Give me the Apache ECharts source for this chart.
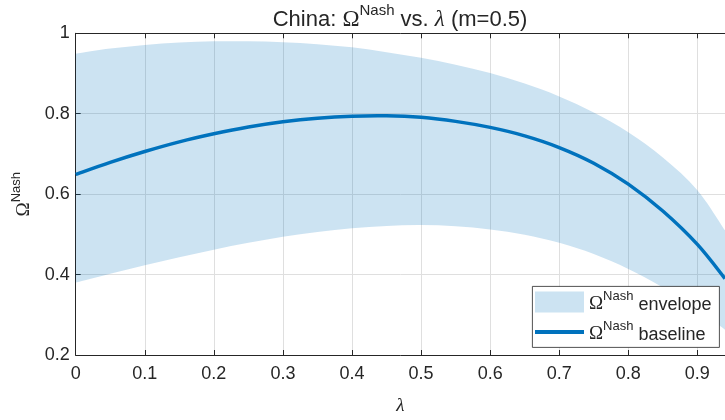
<!DOCTYPE html>
<html><head><meta charset="utf-8">
<script src="https://cdn.jsdelivr.net/npm/echarts@6/dist/echarts.min.js"></script>
<style>html,body{margin:0;padding:0;background:#fff}#c{width:725px;height:420px}</style>
</head><body><div id="c"></div>
<script>
const lambdaVals = [0,0.05,0.1,0.15,0.2,0.25,0.3,0.35,0.4,0.45,0.5,0.55,0.6,0.65,0.7,0.75,0.8,0.85,0.9,0.94];
const baseline  = [0.649,0.679,0.706,0.730,0.750,0.767,0.780,0.789,0.794,0.795,0.791,0.781,0.766,0.745,0.716,0.677,0.625,0.558,0.475,0.390];
const upperEnv  = [0.949,0.962,0.971,0.977,0.980,0.980,0.978,0.973,0.965,0.953,0.939,0.922,0.901,0.875,0.843,0.803,0.754,0.691,0.610,0.510];
const lowerEnv  = [0.380,0.402,0.423,0.443,0.462,0.479,0.494,0.506,0.515,0.521,0.523,0.520,0.512,0.499,0.479,0.451,0.414,0.368,0.313,0.263];
const xTickLabels = ['0','0.1','0.2','0.3','0.4','0.5','0.6','0.7','0.8','0.9'];
const yTickLabels = ['0.2','0.4','0.6','0.8','1'];

const TXT = '#262626';
const SANS = '"Liberation Sans", Arial, Helvetica, sans-serif';
const SERIF = '"Liberation Serif", "DejaVu Serif", serif';
function richSet(base, sup) {
  return {
    t: {fontFamily: SANS, fontSize: base, fontWeight: 'normal', color: TXT, lineHeight: base + 6, verticalAlign: 'bottom'},
    o: {fontFamily: SERIF, fontSize: base + 1, fontWeight: 'normal', color: TXT, lineHeight: base + 6, verticalAlign: 'bottom'},
    l: {fontFamily: SERIF, fontSize: base + 1, fontWeight: 'normal', fontStyle: 'italic', color: TXT, lineHeight: base + 6, verticalAlign: 'bottom'},
    s: {fontFamily: SANS, fontSize: sup, fontWeight: 'normal', color: TXT, lineHeight: sup + 1, verticalAlign: 'top'}
  };
}
const richBase = richSet(18, 13);
const richTitle = richSet(22, 15);

const envData  = lambdaVals.map((x, i) => [x, upperEnv[i], lowerEnv[i]]);
const baseData = lambdaVals.map((x, i) => [x, baseline[i]]);

const fmtX = v => { const k = Math.round(v * 10); return Math.abs(v * 10 - k) < 1e-6 && k < xTickLabels.length ? xTickLabels[k] : ''; };
const fmtY = v => { const k = Math.round((v - 0.2) / 0.2); return Math.abs((v - 0.2) / 0.2 - k) < 1e-6 ? (yTickLabels[k] || '') : ''; };

// Catmull-Rom -> cubic bezier path through pixel points
function smoothSegs(pts) {
  let d = '';
  for (let i = 0; i < pts.length - 1; i++) {
    const p0 = pts[i - 1] || pts[i], p1 = pts[i], p2 = pts[i + 1], p3 = pts[i + 2] || pts[i + 1];
    const c1 = [p1[0] + (p2[0] - p0[0]) / 6, p1[1] + (p2[1] - p0[1]) / 6];
    const c2 = [p2[0] - (p3[0] - p1[0]) / 6, p2[1] - (p3[1] - p1[1]) / 6];
    d += ' C' + c1[0] + ',' + c1[1] + ' ' + c2[0] + ',' + c2[1] + ' ' + p2[0] + ',' + p2[1];
  }
  return d;
}

function renderEnvelope(params, api) {
  if (params.dataIndex !== 0) return null;
  const up = lambdaVals.map((x, i) => api.coord([x, upperEnv[i]]));
  const lo = lambdaVals.map((x, i) => api.coord([x, lowerEnv[i]])).reverse();
  const d = 'M' + up[0][0] + ',' + up[0][1] + smoothSegs(up) +
            ' L' + lo[0][0] + ',' + lo[0][1] + smoothSegs(lo) + ' Z';
  return {type: 'path', shape: {pathData: d}, style: {fill: 'rgba(0,114,189,0.2)', stroke: null}};
}

function renderBaseline(params, api) {
  if (params.dataIndex !== 0) return null;
  const pts = lambdaVals.map((x, i) => api.coord([x, baseline[i]]));
  const d = 'M' + pts[0][0] + ',' + pts[0][1] + smoothSegs(pts);
  return {type: 'path', shape: {pathData: d}, style: {fill: null, stroke: '#0072BD', lineWidth: 3.5, lineJoin: 'round'}};
}

const chart = echarts.init(document.getElementById('c'), null, {renderer: 'canvas'});
chart.setOption({
  animation: false,
  backgroundColor: '#fff',
  title: {
    text: '{t|China: }{o|Ω}{s|Nash}{t| vs. }{l|λ}{t| (m=0.5)}',
    left: 400, textAlign: 'center', top: 3, padding: 0,
    textStyle: {fontWeight: 'normal', rich: richTitle}
  },
  grid: {left: 75.7, right: 0, top: 33.3, bottom: 60, containLabel: false},
  xAxis: [{
    type: 'value', min: 0, max: 0.94, interval: 0.1,
    name: '{l|λ}', nameLocation: 'middle', nameGap: 36,
    nameTextStyle: {rich: richBase},
    axisLine: {lineStyle: {color: TXT, width: 1}},
    axisTick: {inside: true, length: 5, lineStyle: {color: TXT}},
    axisLabel: {formatter: fmtX, color: TXT, fontFamily: SANS, fontSize: 18, margin: 10, showMaxLabel: false},
    splitLine: {show: true, lineStyle: {color: '#dfdfdf', width: 1}}
  }, {
    type: 'value', min: 0, max: 0.94, interval: 0.1, position: 'top',
    axisLine: {lineStyle: {color: TXT, width: 1}},
    axisTick: {inside: true, length: 5, lineStyle: {color: TXT}},
    axisLabel: {show: false}, splitLine: {show: false}
  }],
  yAxis: {
    type: 'value', min: 0.2, max: 1, interval: 0.2,
    name: '{o|Ω}{s|Nash}', nameLocation: 'middle', nameRotate: 90, nameGap: 30,
    nameTextStyle: {rich: richBase},
    axisLine: {show: true, lineStyle: {color: TXT, width: 1}},
    axisTick: {show: true, inside: true, length: 5, lineStyle: {color: TXT}},
    axisLabel: {formatter: fmtY, color: TXT, fontFamily: SANS, fontSize: 18, margin: 6},
    splitLine: {show: true, lineStyle: {color: '#dfdfdf', width: 1}}
  },
  legend: [{
    left: 535, top: 290, orient: 'vertical', itemWidth: 49, itemHeight: 21, itemGap: 0, padding: 0,
    data: [{name: 'envelope', icon: 'rect', itemStyle: {color: '#cce3f2', borderWidth: 0}}],
    formatter: n => '{o|Ω}{s|Nash}{t| ' + n + '}',
    textStyle: {rich: richBase}, selectedMode: false, z: 5
  }, {
    left: 535, top: 320, orient: 'vertical', itemWidth: 49, itemHeight: 4, itemGap: 0, padding: 0,
    data: [{name: 'baseline', icon: 'rect', itemStyle: {color: '#0072BD', borderWidth: 0}}],
    formatter: n => '{o|Ω}{s|Nash}{t| ' + n + '}',
    textStyle: {rich: richBase}, selectedMode: false, z: 5
  }],
  graphic: [{
    type: 'rect', z: 4, left: 532, top: 286,
    shape: {width: 187, height: 61},
    style: {fill: '#fff', stroke: TXT, lineWidth: 0.8}
  }],
  series: [{
    name: 'envelope', type: 'custom', data: envData, renderItem: renderEnvelope,
    encode: {x: 0, y: [1, 2]}, clip: true, silent: true, z: 1,
    itemStyle: {color: '#cce3f2'}
  }, {
    name: 'baseline', type: 'custom', data: baseData, renderItem: renderBaseline,
    encode: {x: 0, y: 1}, clip: true, silent: true, z: 3,
    itemStyle: {color: '#0072BD'}
  }]
});
</script>
</body></html>
